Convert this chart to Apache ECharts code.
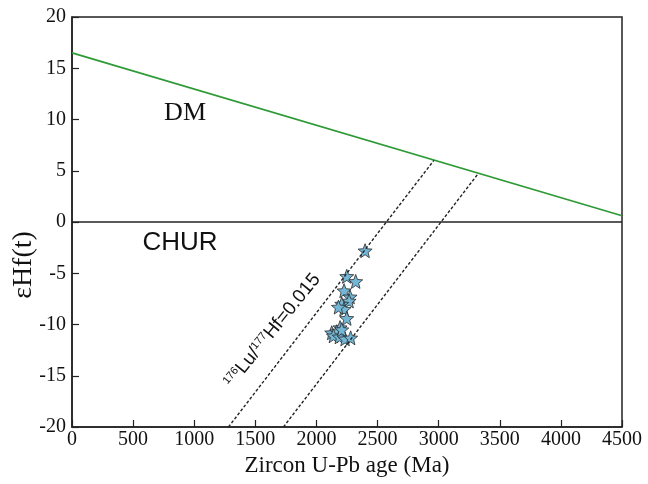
<!DOCTYPE html>
<html><head><meta charset="utf-8">
<script src="https://cdn.jsdelivr.net/npm/echarts@6/dist/echarts.min.js"></script>
<style>html,body{margin:0;padding:0;background:#fff}#c{width:648px;height:484px}</style>
</head><body><div id="c"></div>
<script>
const dmAge = [0, 4500];
const dmEhf = [16.5, 0.6];
const churAge = [0, 4500];
const churEhf = [0, 0];
const ref1Age = [1280, 2960];
const ref1Ehf = [-20, 6.0];
const ref2Age = [1730, 3322];
const ref2Ehf = [-20, 4.7];
const zirconAge = [2398, 2248, 2321, 2226, 2275, 2267, 2207, 2226, 2180, 2248, 2193, 2125, 2166, 2139, 2187, 2234, 2280, 2207];
const zirconEhf = [-2.8, -5.3, -5.8, -6.7, -7.3, -7.7, -8.0, -8.5, -8.3, -9.4, -10.3, -10.8, -10.7, -11.1, -11.2, -11.4, -11.3, -10.5];

const zip = (a, b) => a.map((v, i) => [v, b[i]]);
const star = 'path://M12,1 L14.9,8.6 23,9.1 16.7,14.2 18.8,22 12,17.6 5.2,22 7.3,14.2 1,9.1 9.1,8.6Z';
const serif = '"Liberation Serif", "DejaVu Serif", serif';
const sans = '"Liberation Sans", Arial, sans-serif';

const chart = echarts.init(document.getElementById('c'));
chart.setOption({
  animation: false,
  backgroundColor: '#fff',
  grid: { left: 72, right: 26, top: 17, bottom: 57, containLabel: false, outerBoundsMode: 'none', show: true, borderColor: '#222', borderWidth: 1.5 },
  xAxis: {
    type: 'value', min: 0, max: 4500, interval: 500,
    name: 'Zircon U-Pb age (Ma)', nameLocation: 'middle', nameGap: 26,
    nameTextStyle: { fontFamily: serif, fontSize: 23, color: '#111' },
    axisLine: { onZero: false, lineStyle: { color: '#222', width: 1.5 } },
    axisTick: { inside: true, length: 7, lineStyle: { color: '#222', width: 1.2 } },
    axisLabel: { fontFamily: serif, fontSize: 20, color: '#111', margin: 3, formatter: v => String(v) },
    splitLine: { show: false }
  },
  yAxis: {
    type: 'value', min: -20, max: 20, interval: 5,
    axisLine: { onZero: false, lineStyle: { color: '#222', width: 1.5 } },
    axisTick: { inside: true, length: 7, lineStyle: { color: '#222', width: 1.2 } },
    axisLabel: { fontFamily: serif, fontSize: 20, color: '#111', margin: 6, formatter: v => String(v) },
    splitLine: { show: false }
  },
  series: [
    { type: 'line', data: zip(dmAge, dmEhf), symbol: 'none', lineStyle: { color: '#2e9a35', width: 1.6 } },
    { type: 'line', data: zip(churAge, churEhf), symbol: 'none', lineStyle: { color: '#222', width: 1.6 } },
    { type: 'line', data: zip(ref1Age, ref1Ehf), symbol: 'none', lineStyle: { color: '#222', width: 1.4, type: [3, 2] } },
    { type: 'line', data: zip(ref2Age, ref2Ehf), symbol: 'none', lineStyle: { color: '#222', width: 1.4, type: [3, 2] } },
    { type: 'scatter', data: zip(zirconAge, zirconEhf), symbol: star, symbolSize: 14,
      itemStyle: { color: '#74b6d6', borderColor: '#2a2a2a', borderWidth: 0.8, opacity: 1 } }
  ]
});

const p = (x, y) => chart.convertToPixel({ gridIndex: 0 }, [x, y]);
const dm = p(925, 10.6), ch = p(884, -2.0), lu = p(1640, -10.6);
chart.setOption({
  graphic: [
    { type: 'text', x: dm[0], y: dm[1], style: { text: 'DM', font: '26px ' + serif, fill: '#111', align: 'center', verticalAlign: 'middle' } },
    { type: 'text', x: ch[0], y: ch[1], style: { text: 'CHUR', font: '26px ' + sans, fill: '#111', align: 'center', verticalAlign: 'middle' } },
    { type: 'text', x: lu[0], y: lu[1], rotation: 51 * Math.PI / 180,
      style: { text: '{s|176}{m|Lu/}{s|177}{m|Hf=0.015}', align: 'center', verticalAlign: 'middle', fill: '#111',
        rich: { m: { fontFamily: sans, fontSize: 19, fill: '#111' }, s: { fontFamily: sans, fontSize: 11, fill: '#111', verticalAlign: 'top', padding: [0, 0, 8, 0] } } } },
    { type: 'text', x: 24, y: 265, rotation: Math.PI / 2,
      style: { text: 'εHf(t)', font: '28px ' + serif, fill: '#111', align: 'center', verticalAlign: 'middle' } }
  ]
});
</script></body></html>
